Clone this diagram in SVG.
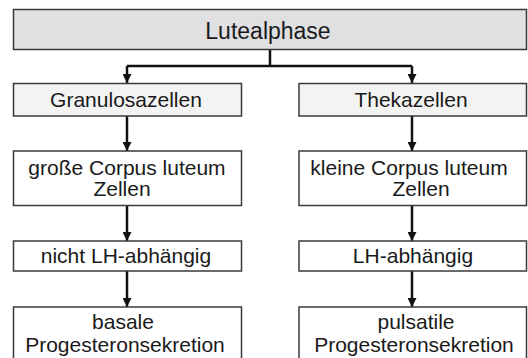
<svg xmlns="http://www.w3.org/2000/svg" width="528" height="358" viewBox="0 0 528 358">
<defs>
<style>
.box{stroke:#3a3a3a;stroke-width:1.5;fill:#ffffff}
.top{fill:#e0e0e2}
.lvl{fill:#f3f3f3}
text{font-family:"Liberation Sans",Arial,Helvetica,sans-serif;font-size:21px;fill:#1a1a1a;text-anchor:middle}
.big{font-size:23px}
.con{stroke:#111;stroke-width:2.5;fill:none}
</style>
<marker id="ah" viewBox="0 0 10 10" refX="10" refY="5" markerWidth="9" markerHeight="9" markerUnits="userSpaceOnUse" orient="auto">
<path d="M0,0 L10,5 L0,10 z" fill="#111"/>
</marker>
</defs>
<rect width="528" height="358" fill="#ffffff"/>
<g id="connectors">
<path class="con" d="M270,50 V66" stroke-width="3"/>
<path class="con" d="M127,66 H412"/>
<path class="con" d="M127,66 V83" marker-end="url(#ah)"/>
<path class="con" d="M412,66 V83" marker-end="url(#ah)"/>
<path class="con" d="M127,116 V151" marker-end="url(#ah)"/>
<path class="con" d="M412,116 V151" marker-end="url(#ah)"/>
<path class="con" d="M127,205 V241" marker-end="url(#ah)"/>
<path class="con" d="M412,205 V241" marker-end="url(#ah)"/>
<path class="con" d="M127,271 V307" marker-end="url(#ah)"/>
<path class="con" d="M412,271 V307" marker-end="url(#ah)"/>
</g>
<g id="lutealphase">
<rect class="box top" x="13.5" y="9.5" width="513" height="40"/>
<text class="big" x="268" y="39">Lutealphase</text>
</g>
<g id="granulosazellen">
<rect class="box lvl" x="13.5" y="83.5" width="228" height="32.5"/>
<text x="126" y="107">Granulosazellen</text>
</g>
<g id="thekazellen">
<rect class="box lvl" x="299" y="83.5" width="227.5" height="32.5"/>
<text x="411" y="107">Thekazellen</text>
</g>
<g id="grosse">
<rect class="box" x="13.5" y="151" width="228" height="54.5"/>
<text x="127" y="175">große Corpus luteum</text>
<text x="122" y="196">Zellen</text>
</g>
<g id="kleine">
<rect class="box" x="299" y="151" width="227.5" height="54.5"/>
<text x="409" y="175">kleine Corpus luteum</text>
<text x="421" y="196">Zellen</text>
</g>
<g id="nichtlh">
<rect class="box" x="13.5" y="241" width="228" height="30"/>
<text x="126" y="263">nicht LH-abhängig</text>
</g>
<g id="lh">
<rect class="box" x="299" y="241" width="227.5" height="30"/>
<text x="413" y="263">LH-abhängig</text>
</g>
<g id="basale">
<rect class="box" x="13.5" y="307" width="228" height="60"/>
<text x="123" y="329">basale</text>
<text x="125" y="352">Progesteronsekretion</text>
</g>
<g id="pulsatile">
<rect class="box" x="299" y="307" width="227.5" height="60"/>
<text x="416" y="329">pulsatile</text>
<text x="414" y="352">Progesteronsekretion</text>
</g>
</svg>
